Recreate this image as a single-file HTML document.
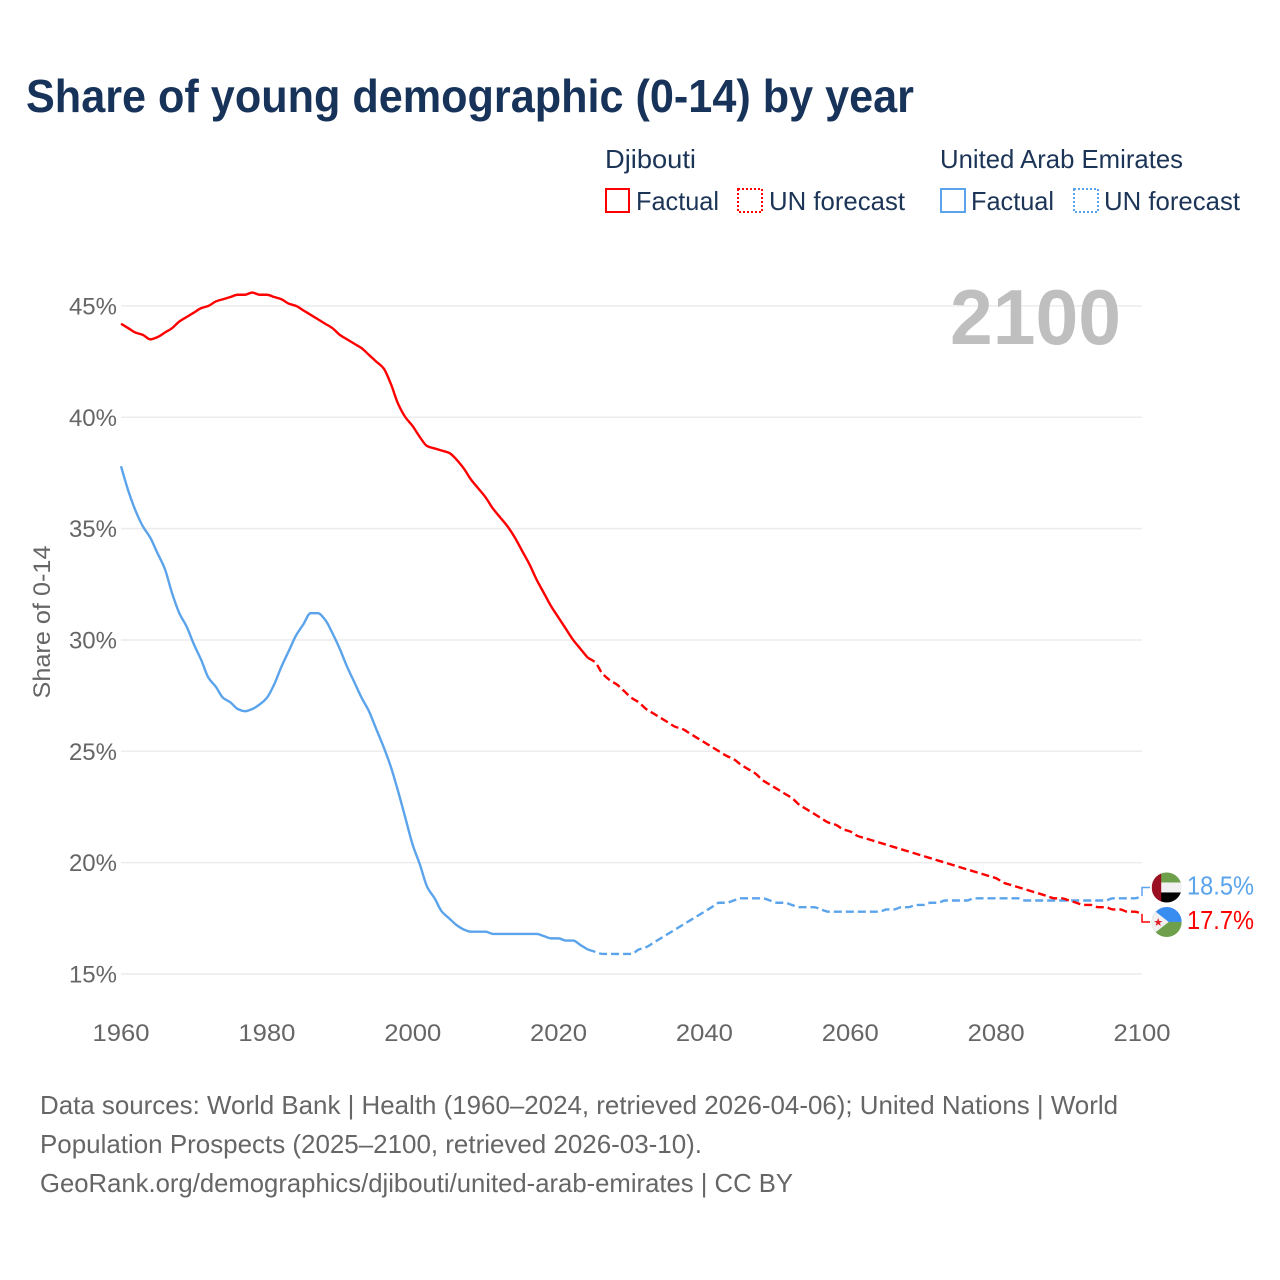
<!DOCTYPE html>
<html lang="en">
<head>
<meta charset="utf-8">
<title>Share of young demographic (0-14) by year</title>
<style>
html,body{margin:0;padding:0;background:#fff;}
svg{display:block;font-family:"Liberation Sans",sans-serif;}
.legend-text{font-size:26px;fill:#1c3557;}
.foot{font-size:26px;fill:#666;}
.tick{font-size:24px;fill:#666;}
</style>
</head>
<body>
<svg id="chart" width="1280" height="1280" viewBox="0 0 1280 1280" xmlns="http://www.w3.org/2000/svg">
  <defs>
    <clipPath id="uae-clip"><circle cx="0" cy="0" r="15"></circle></clipPath>
    <clipPath id="dji-clip"><circle cx="0" cy="0" r="15"></circle></clipPath>
  </defs>
  <rect width="1280" height="1280" fill="#fff"></rect>
  <text x="26" y="112" font-size="46" font-weight="700" fill="#17335a" textLength="888" lengthAdjust="spacingAndGlyphs">Share of young demographic (0-14) by year</text>

  <g>
    <text class="legend-text" x="605" y="168" textLength="91" lengthAdjust="spacingAndGlyphs">Djibouti</text>
    <text class="legend-text" x="940" y="168" textLength="243" lengthAdjust="spacingAndGlyphs">United Arab Emirates</text>
    <rect x="606" y="189" width="23" height="23" fill="none" stroke="#ff0000" stroke-width="2"></rect>
    <text class="legend-text" x="636" y="210" textLength="83" lengthAdjust="spacingAndGlyphs">Factual</text>
    <rect x="738" y="189" width="24" height="23" fill="none" stroke="#ff0000" stroke-width="2" stroke-dasharray="2 2"></rect>
    <text class="legend-text" x="769" y="210" textLength="136" lengthAdjust="spacingAndGlyphs">UN forecast</text>
    <rect x="941" y="189" width="24" height="23" fill="none" stroke="#5ba4ec" stroke-width="2"></rect>
    <text class="legend-text" x="971" y="210" textLength="83" lengthAdjust="spacingAndGlyphs">Factual</text>
    <rect x="1074" y="189" width="24" height="23" fill="none" stroke="#5ba4ec" stroke-width="2" stroke-dasharray="2 2"></rect>
    <text class="legend-text" x="1104" y="210" textLength="136" lengthAdjust="spacingAndGlyphs">UN forecast</text>
  </g>

  <g id="grid"></g>
  <g id="yticks"></g>
  <g id="xticks"></g>
  <text class="tick" transform="translate(50,622) rotate(-90)" text-anchor="middle" textLength="153" lengthAdjust="spacingAndGlyphs">Share of 0-14</text>
  <text x="950" y="344" font-size="78" font-weight="700" fill="#bfbfbf" textLength="171" lengthAdjust="spacingAndGlyphs">2100</text>

  <g id="series"></g>

  <g id="flag-uae">
    <g clip-path="url(#uae-clip)">
      <rect x="-15" y="-15" width="30" height="30" fill="#f0f0f0"></rect>
      <rect x="-15" y="-15" width="30" height="10" fill="#6ea04b"></rect>
      <rect x="-15" y="5" width="30" height="10" fill="#000"></rect>
      <rect x="-15" y="-15" width="9.5" height="30" fill="#9b0f22"></rect>
    </g>
  </g>
  <g id="flag-dji">
    <g clip-path="url(#dji-clip)">
      <rect x="-15" y="-15" width="30" height="15" fill="#3a8df0"></rect>
      <rect x="-15" y="0" width="30" height="15" fill="#6ea04b"></rect>
      <polygon points="-17,-15 2,0 -17,15" fill="#f0f0f0"></polygon>
      <polygon points="-8.5,-4 -7.4,-1 -4.4,-1 -6.8,0.9 -5.9,3.9 -8.5,2.1 -11.1,3.9 -10.2,0.9 -12.6,-1 -9.6,-1" fill="#e0202c"></polygon>
    </g>
  </g>
  <text id="label-uae" x="1187" font-size="26" fill="#5ba4ec" textLength="67" lengthAdjust="spacingAndGlyphs"></text>
  <text id="label-dji" x="1187" font-size="26" fill="#ff0000" textLength="67" lengthAdjust="spacingAndGlyphs"></text>

  <g>
    <text class="foot" x="40" y="1114" textLength="1078" lengthAdjust="spacingAndGlyphs">Data sources: World Bank | Health (1960–2024, retrieved 2026-04-06); United Nations | World</text>
    <text class="foot" x="40" y="1153" textLength="662" lengthAdjust="spacingAndGlyphs">Population Prospects (2025–2100, retrieved 2026-03-10).</text>
    <text class="foot" x="40" y="1192" textLength="753" lengthAdjust="spacingAndGlyphs">GeoRank.org/demographics/djibouti/united-arab-emirates | CC BY</text>
  </g>
</svg>
<script>
const xTickYears = [1960, 1980, 2000, 2020, 2040, 2060, 2080, 2100];
const yTickValues = [15, 20, 25, 30, 35, 40, 45];
const factualStartYear = 1960;
const forecastStartYear = 2024;
const djiboutiFactual = [
  44.2,44.0,43.8,43.7,43.5,43.6,43.8,44.0,44.3,44.5,
  44.7,44.9,45.0,45.2,45.3,45.4,45.5,45.5,45.6,45.5,
  45.5,45.4,45.3,45.1,45.0,44.8,44.6,44.4,44.2,44.0,
  43.7,43.5,43.3,43.1,42.8,42.5,42.2,41.5,40.6,40.0,
  39.6,39.1,38.7,38.6,38.5,38.4,38.1,37.7,37.2,36.8,
  36.4,35.9,35.5,35.1,34.6,34.0,33.4,32.7,32.1,31.5,
  31.0,30.5,30.0,29.6,29.2
];
const djiboutiForecast = [
  29.2,29.0,28.5,28.2,28.0,27.7,
  27.4,27.2,26.9,26.7,26.5,26.3,26.1,26.0,25.8,25.6,
  25.4,25.2,25.0,24.8,24.65,24.4,24.2,24.0,23.7,23.5,
  23.3,23.1,22.9,22.6,22.4,22.2,22.0,21.8,21.7,21.5,
  21.4,21.2,21.1,21.0,20.9,20.8,20.7,20.6,20.5,20.4,
  20.3,20.2,20.1,20.0,19.9,19.8,19.7,19.6,19.5,19.4,
  19.3,19.1,19.0,18.9,18.8,18.7,18.6,18.5,18.4,18.4,
  18.3,18.2,18.1,18.1,18.0,18.0,17.9,17.9,17.8,17.8,
  17.7
];
const uaeFactual = [
  37.8,36.7,35.8,35.1,34.6,33.9,33.2,32.1,31.2,30.6,
  29.8,29.1,28.3,27.9,27.4,27.2,26.9,26.8,26.9,27.1,
  27.4,28.0,28.8,29.5,30.2,30.7,31.2,31.2,30.9,30.3,
  29.6,28.8,28.1,27.4,26.8,26.0,25.2,24.3,23.2,22.0,
  20.8,19.9,18.9,18.4,17.8,17.5,17.2,17.0,16.9,16.9,
  16.9,16.8,16.8,16.8,16.8,16.8,16.8,16.8,16.7,16.6,
  16.6,16.5,16.5,16.3,16.1
];
const uaeForecast = [
  16.1,16.0,15.9,15.9,15.9,15.9,
  15.9,16.1,16.2,16.4,16.6,16.8,17.0,17.2,17.4,17.6,
  17.8,18.0,18.2,18.2,18.3,18.4,18.4,18.4,18.4,18.3,
  18.2,18.2,18.1,18.0,18.0,18.0,17.9,17.8,17.8,17.8,
  17.8,17.8,17.8,17.8,17.8,17.9,17.9,18.0,18.0,18.1,
  18.1,18.2,18.2,18.3,18.3,18.3,18.3,18.4,18.4,18.4,
  18.4,18.4,18.4,18.4,18.3,18.3,18.3,18.3,18.3,18.3,
  18.3,18.3,18.3,18.3,18.3,18.3,18.4,18.4,18.4,18.4,
  18.5
];

const NS = 'http://www.w3.org/2000/svg';
function xScale(year) { return 121 + (year - 1960) * (1142 - 121) / 140; }
function yScale(v) { return 974 - (v - 15) * 22.27; }
/* Monotone cubic path so flat runs stay flat and corners round off gently. */
function linePath(values, startYear) {
  const xs = values.map(function (v, i) { return xScale(startYear + i); });
  const ys = values.map(function (v) { return yScale(v); });
  const n = values.length;
  const slopes = [];
  for (let i = 0; i < n - 1; i++) {
    slopes.push((ys[i + 1] - ys[i]) / (xs[i + 1] - xs[i]));
  }
  const tangents = [];
  for (let i = 0; i < n; i++) {
    if (i === 0) {
      tangents.push(slopes[0]);
    } else if (i === n - 1) {
      tangents.push(slopes[n - 2]);
    } else if (slopes[i - 1] * slopes[i] <= 0) {
      tangents.push(0);
    } else {
      tangents.push(2 * slopes[i - 1] * slopes[i] / (slopes[i - 1] + slopes[i]));
    }
  }
  let d = 'M' + xs[0].toFixed(2) + ' ' + ys[0].toFixed(2);
  for (let i = 0; i < n - 1; i++) {
    const h = (xs[i + 1] - xs[i]) / 3;
    d += ' C' + (xs[i] + h).toFixed(2) + ' ' + (ys[i] + tangents[i] * h).toFixed(2) +
         ' ' + (xs[i + 1] - h).toFixed(2) + ' ' + (ys[i + 1] - tangents[i + 1] * h).toFixed(2) +
         ' ' + xs[i + 1].toFixed(2) + ' ' + ys[i + 1].toFixed(2);
  }
  return d;
}

const gridGroup = document.getElementById('grid');
const yTickGroup = document.getElementById('yticks');
yTickValues.forEach(function (v) {
  const line = document.createElementNS(NS, 'line');
  
  
  line.setAttribute('x1', xScale(1960));
  line.setAttribute('x2', xScale(2100));
  line.setAttribute('y1', yScale(v));
  line.setAttribute('y2', yScale(v));
  line.setAttribute('stroke', '#ececec');
  line.setAttribute('stroke-width', '1.5');
  gridGroup.appendChild(line);
  const label = document.createElementNS(NS, 'text');
  
  
  label.setAttribute('class', 'tick');
  label.setAttribute('x', 117);
  label.setAttribute('y', yScale(v) + 8.5);
  label.setAttribute('text-anchor', 'end');
  label.textContent = v + '%';
  yTickGroup.appendChild(label);
});

const xTickGroup = document.getElementById('xticks');
xTickYears.forEach(function (year) {
  const label = document.createElementNS(NS, 'text');
  
  
  label.setAttribute('class', 'tick');
  label.setAttribute('x', xScale(year));
  label.setAttribute('y', 1041);
  label.setAttribute('text-anchor', 'middle');
  label.setAttribute('textLength', '57');
  label.setAttribute('lengthAdjust', 'spacingAndGlyphs');
  label.textContent = year;
  xTickGroup.appendChild(label);
});

const seriesGroup = document.getElementById('series');
function addLine(values, startYear, color, dashed, name) {
  const path = document.createElementNS(NS, 'path');
  
  
  path.setAttribute('d', linePath(values, startYear));
  path.setAttribute('fill', 'none');
  path.setAttribute('stroke', color);
  path.setAttribute('stroke-width', '2.4');
  path.setAttribute('stroke-linejoin', 'round');
  if (dashed) {
    path.setAttribute('stroke-dasharray', '8 4');
  }
  seriesGroup.appendChild(path);
}
addLine(uaeFactual, factualStartYear, '#5ba4ec', false, 'line-uae-factual');
addLine(uaeForecast, forecastStartYear, '#5ba4ec', true, 'line-uae-forecast');
addLine(djiboutiFactual, factualStartYear, '#ff0000', false, 'line-djibouti-factual');
addLine(djiboutiForecast, forecastStartYear, '#ff0000', true, 'line-djibouti-forecast');

const uaeEnd = uaeForecast[uaeForecast.length - 1];
const djiEnd = djiboutiForecast[djiboutiForecast.length - 1];
const endMid = (yScale(uaeEnd) + yScale(djiEnd)) / 2;
const uaeAbove = uaeEnd >= djiEnd;
const uaeFlagY = Math.abs(yScale(uaeEnd) - yScale(djiEnd)) < 34 ? endMid + (uaeAbove ? -17.5 : 17.5) : yScale(uaeEnd);
const djiFlagY = Math.abs(yScale(uaeEnd) - yScale(djiEnd)) < 34 ? endMid + (uaeAbove ? 17 : -17) : yScale(djiEnd);

function addConnector(endValue, flagY, color, name) {
  const path = document.createElementNS(NS, 'path');
  
  
  path.setAttribute('d', 'M' + xScale(2100) + ' ' + yScale(endValue) + ' L' + xScale(2100) + ' ' + flagY + ' L1150 ' + flagY);
  path.setAttribute('fill', 'none');
  path.setAttribute('stroke', color);
  path.setAttribute('stroke-width', '1.5');
  seriesGroup.appendChild(path);
}
addConnector(uaeEnd, uaeFlagY, '#5ba4ec', 'connector-uae');
addConnector(djiEnd, djiFlagY, '#ff0000', 'connector-djibouti');

document.getElementById('flag-uae').setAttribute('transform', 'translate(1166.7,' + uaeFlagY + ')');
document.getElementById('flag-dji').setAttribute('transform', 'translate(1166.7,' + djiFlagY + ')');
const uaeLabel = document.getElementById('label-uae');
uaeLabel.setAttribute('y', uaeFlagY + 7);
uaeLabel.textContent = uaeEnd.toFixed(1) + '%';
const djiLabel = document.getElementById('label-dji');
djiLabel.setAttribute('y', djiFlagY + 7);
djiLabel.textContent = djiEnd.toFixed(1) + '%';
</script>
</body>
</html>
